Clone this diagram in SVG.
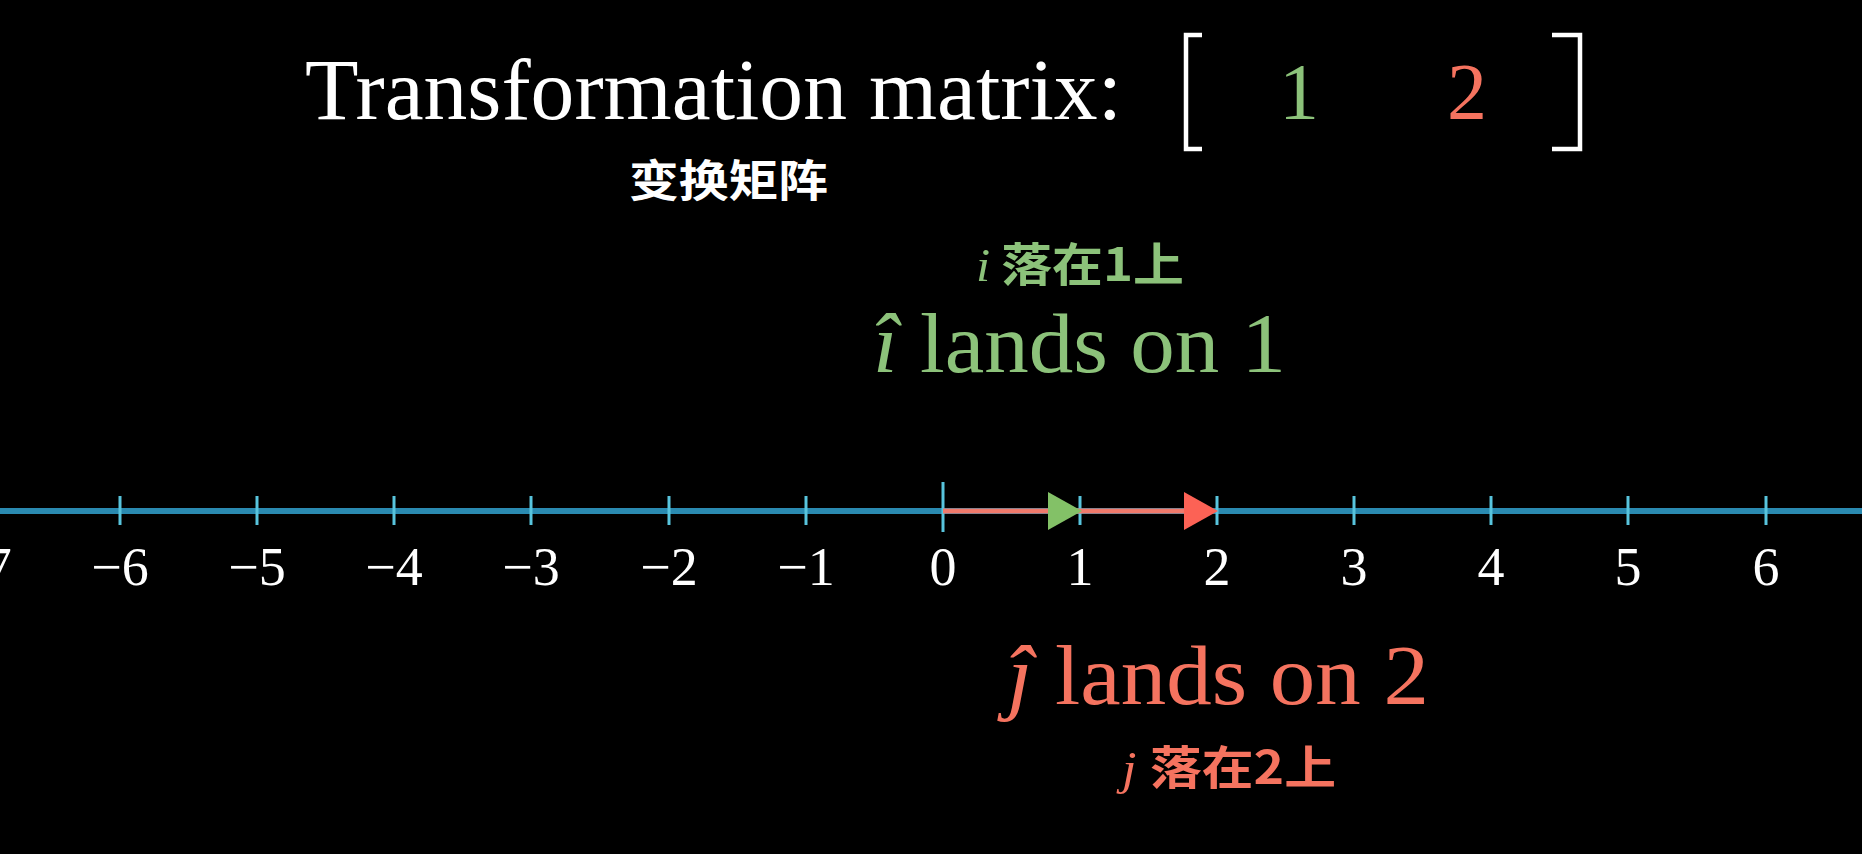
<svg xmlns="http://www.w3.org/2000/svg" width="1862" height="854" viewBox="0 0 1862 854">
<style>
.bg{fill:#000}
.serif{font-family:"Liberation Serif","DejaVu Serif",serif}
.cjk{font-family:"Noto Sans CJK SC","Noto Sans",sans-serif;font-weight:700}
.num{font-family:"Liberation Serif","DejaVu Serif",serif;font-size:54px;fill:#fff;text-anchor:middle}
.tick{stroke:#58c4dd;stroke-width:3}
.white{fill:#fff}
.green{fill:#8cc27a}
.red{fill:#f5735f}
.bracket{fill:none;stroke:#fff;stroke-width:4.5}
</style>
<rect class="bg" x="0" y="0" width="1862" height="854"/>

<g id="title">
<text class="serif white" x="305" y="119" font-size="86" textLength="817" lengthAdjust="spacingAndGlyphs">Transformation matrix:</text>
<text class="cjk white" x="629" y="197" font-size="44" textLength="199" lengthAdjust="spacingAndGlyphs">变换矩阵</text>
</g>

<g id="matrix">
<path class="bracket" d="M1202,35 H1186 V149 H1202"/>
<path class="bracket" d="M1552,35 H1580 V149 H1552"/>
<text class="serif green" x="1299" y="119" font-size="80" text-anchor="middle">1</text>
<text class="serif red" x="1467" y="119" font-size="80" text-anchor="middle">2</text>
</g>

<g id="i-label">
<text x="976" y="281" font-size="46" textLength="208" lengthAdjust="spacingAndGlyphs"><tspan class="serif green" font-style="italic">i</tspan><tspan class="cjk green" dx="10">落在1上</tspan></text>
<text class="serif green" x="873" y="372" font-size="84" textLength="413" lengthAdjust="spacingAndGlyphs"><tspan font-style="italic">î</tspan> lands on 1</text>
</g>

<g id="j-label">
<text class="serif red" x="1007" y="704" font-size="84" textLength="422" lengthAdjust="spacingAndGlyphs"><tspan font-style="italic">ĵ</tspan> lands on 2</text>
<text x="1122" y="784" font-size="46" textLength="214" lengthAdjust="spacingAndGlyphs"><tspan class="serif red" font-style="italic">j</tspan><tspan class="cjk red" dx="12">落在2上</tspan></text>
</g>

<g id="number-line">
<line x1="0" y1="511" x2="1862" y2="511" stroke="#2a8ab0" stroke-width="6"/>
<g class="ticks">
<line class="tick" x1="120" y1="496" x2="120" y2="525"/>
<line class="tick" x1="257" y1="496" x2="257" y2="525"/>
<line class="tick" x1="394" y1="496" x2="394" y2="525"/>
<line class="tick" x1="531" y1="496" x2="531" y2="525"/>
<line class="tick" x1="669" y1="496" x2="669" y2="525"/>
<line class="tick" x1="806" y1="496" x2="806" y2="525"/>
<line class="tick" x1="943" y1="482" x2="943" y2="532"/>
<line class="tick" x1="1080" y1="496" x2="1080" y2="525"/>
<line class="tick" x1="1217" y1="496" x2="1217" y2="525"/>
<line class="tick" x1="1354" y1="496" x2="1354" y2="525"/>
<line class="tick" x1="1491" y1="496" x2="1491" y2="525"/>
<line class="tick" x1="1628" y1="496" x2="1628" y2="525"/>
<line class="tick" x1="1766" y1="496" x2="1766" y2="525"/>
</g>
<g class="labels">
<text class="num" x="-17" y="585">−7</text>
<text class="num" x="120" y="585">−6</text>
<text class="num" x="257" y="585">−5</text>
<text class="num" x="394" y="585">−4</text>
<text class="num" x="531" y="585">−3</text>
<text class="num" x="669" y="585">−2</text>
<text class="num" x="806" y="585">−1</text>
<text class="num" x="943" y="585">0</text>
<text class="num" x="1080" y="585">1</text>
<text class="num" x="1217" y="585">2</text>
<text class="num" x="1354" y="585">3</text>
<text class="num" x="1491" y="585">4</text>
<text class="num" x="1628" y="585">5</text>
<text class="num" x="1766" y="585">6</text>
</g>
</g>

<g id="connectors">
<g id="j-vector">
<line x1="943" y1="511" x2="1188" y2="511" stroke="#f07a6c" stroke-width="5"/>
<polygon points="1184,492 1184,530 1218,511" fill="#fc6255"/>
</g>
<g id="i-vector">
<polygon points="1048,492 1048,530 1082,511" fill="#83c167"/>
</g>
</g>
</svg>
